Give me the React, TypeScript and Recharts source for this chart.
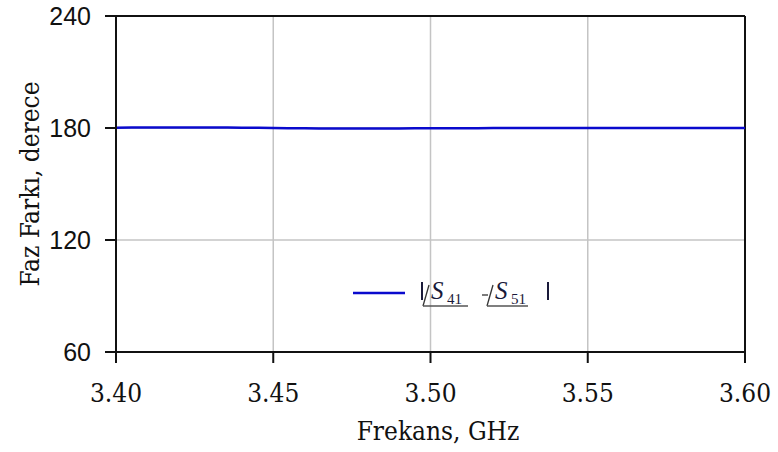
import React from 'react';
import { LineChart, Line, XAxis, YAxis, CartesianGrid, ReferenceLine } from 'recharts';

const frequencies = [3.40, 3.41, 3.42, 3.43, 3.44, 3.45, 3.46, 3.47, 3.48, 3.49, 3.50, 3.51, 3.52, 3.53, 3.54, 3.55, 3.56, 3.57, 3.58, 3.59, 3.60];
const phaseDiff = [180.2, 180.25, 180.3, 180.25, 180.15, 180.0, 179.85, 179.75, 179.7, 179.75, 179.85, 179.9, 179.95, 180.0, 180.0, 180.0, 180.0, 180.0, 179.95, 179.95, 179.95];
const xTicks = [3.40, 3.45, 3.50, 3.55, 3.60];
const yTicks = [60, 120, 180, 240];

const data = frequencies.map((f, i) => ({ f, v: phaseDiff[i] }));

const serif = '"DejaVu Serif Condensed", "Liberation Serif", serif';
const sans = '"Liberation Sans", Arial, sans-serif';

const XTick = (props: any) => {
  const { x, y, payload } = props;
  return (
    <text x={x} y={y + 31} textAnchor="middle" fontFamily={serif} fontSize={26} fill="#111">
      {Number(payload.value).toFixed(2)}
    </text>
  );
};

const LegendBox = () => (
  <svg width={230} height={44} style={{ display: 'block' }}>
    <line x1={8} y1={21} x2={60} y2={21} stroke="#0a0acd" strokeWidth={2.5} />
    <g fill="#1a1a3a" fontFamily='"Liberation Serif", serif'>
      <line x1={77} y1={10} x2={77} y2={28} stroke="#1a1a3a" strokeWidth={2} />
      <line x1={78} y1={34} x2={84} y2={13} stroke="#333" strokeWidth={1.3} />
      <line x1={78} y1={34} x2={123} y2={34} stroke="#555" strokeWidth={1.3} />
      <text x={86} y={27} fontSize={25} fontStyle="italic">S</text>
      <text x={102} y={32} fontSize={15}>41</text>
      <line x1={137} y1={23} x2={143} y2={23} stroke="#333" strokeWidth={1.3} />
      <line x1={142} y1={34} x2={148} y2={13} stroke="#333" strokeWidth={1.3} />
      <line x1={142} y1={34} x2={183} y2={34} stroke="#555" strokeWidth={1.3} />
      <text x={150} y={27} fontSize={25} fontStyle="italic">S</text>
      <text x={166} y={32} fontSize={15}>51</text>
      <line x1={203} y1={10} x2={203} y2={28} stroke="#1a1a3a" strokeWidth={2} />
    </g>
  </svg>
);

export default function App() {
  return (
    <div style={{ position: 'absolute', left: 0, top: 0, width: 778, height: 452, background: '#fff' }}>
      <LineChart width={778} height={452} data={data} margin={{ top: 16, right: 33, bottom: 0, left: 0 }}>
        <CartesianGrid stroke="#c4c4c4" strokeWidth={1.5} horizontalValues={[120, 180]} verticalValues={[3.45, 3.5, 3.55]} />
        <XAxis
          dataKey="f"
          type="number"
          domain={[3.4, 3.6]}
          ticks={xTicks}
          height={100}
          tickSize={11}
          tickMargin={8}
          axisLine={{ stroke: '#111', strokeWidth: 2 }}
          tickLine={{ stroke: '#111', strokeWidth: 2 }}
          tick={XTick}
          label={() => (
            <text x={438} y={440} textAnchor="middle" fontFamily={serif} fontSize={26} fill="#111">
              Frekans, GHz
            </text>
          )}
        />
        <YAxis
          type="number"
          domain={[60, 240]}
          ticks={yTicks}
          width={116}
          tickSize={11}
          tickMargin={14}
          axisLine={{ stroke: '#111', strokeWidth: 2 }}
          tickLine={{ stroke: '#111', strokeWidth: 2 }}
          tick={{ fill: '#111', fontSize: 25, fontFamily: sans }}
          label={() => (
            <text x={30} y={184} transform="rotate(-90 30 184)" textAnchor="middle" dominantBaseline="central" fontFamily={serif} fontSize={26} fill="#111">
              Faz Farkı, derece
            </text>
          )}
        />
        <ReferenceLine y={240} stroke="#111" strokeWidth={2} />
        <ReferenceLine x={3.6} stroke="#111" strokeWidth={2} />
        <Line type="monotone" dataKey="v" stroke="#0a0acd" strokeWidth={2.5} dot={false} isAnimationActive={false} />
      </LineChart>
      <div style={{ position: 'absolute', left: 345, top: 272 }}>
        <LegendBox />
      </div>
    </div>
  );
}
